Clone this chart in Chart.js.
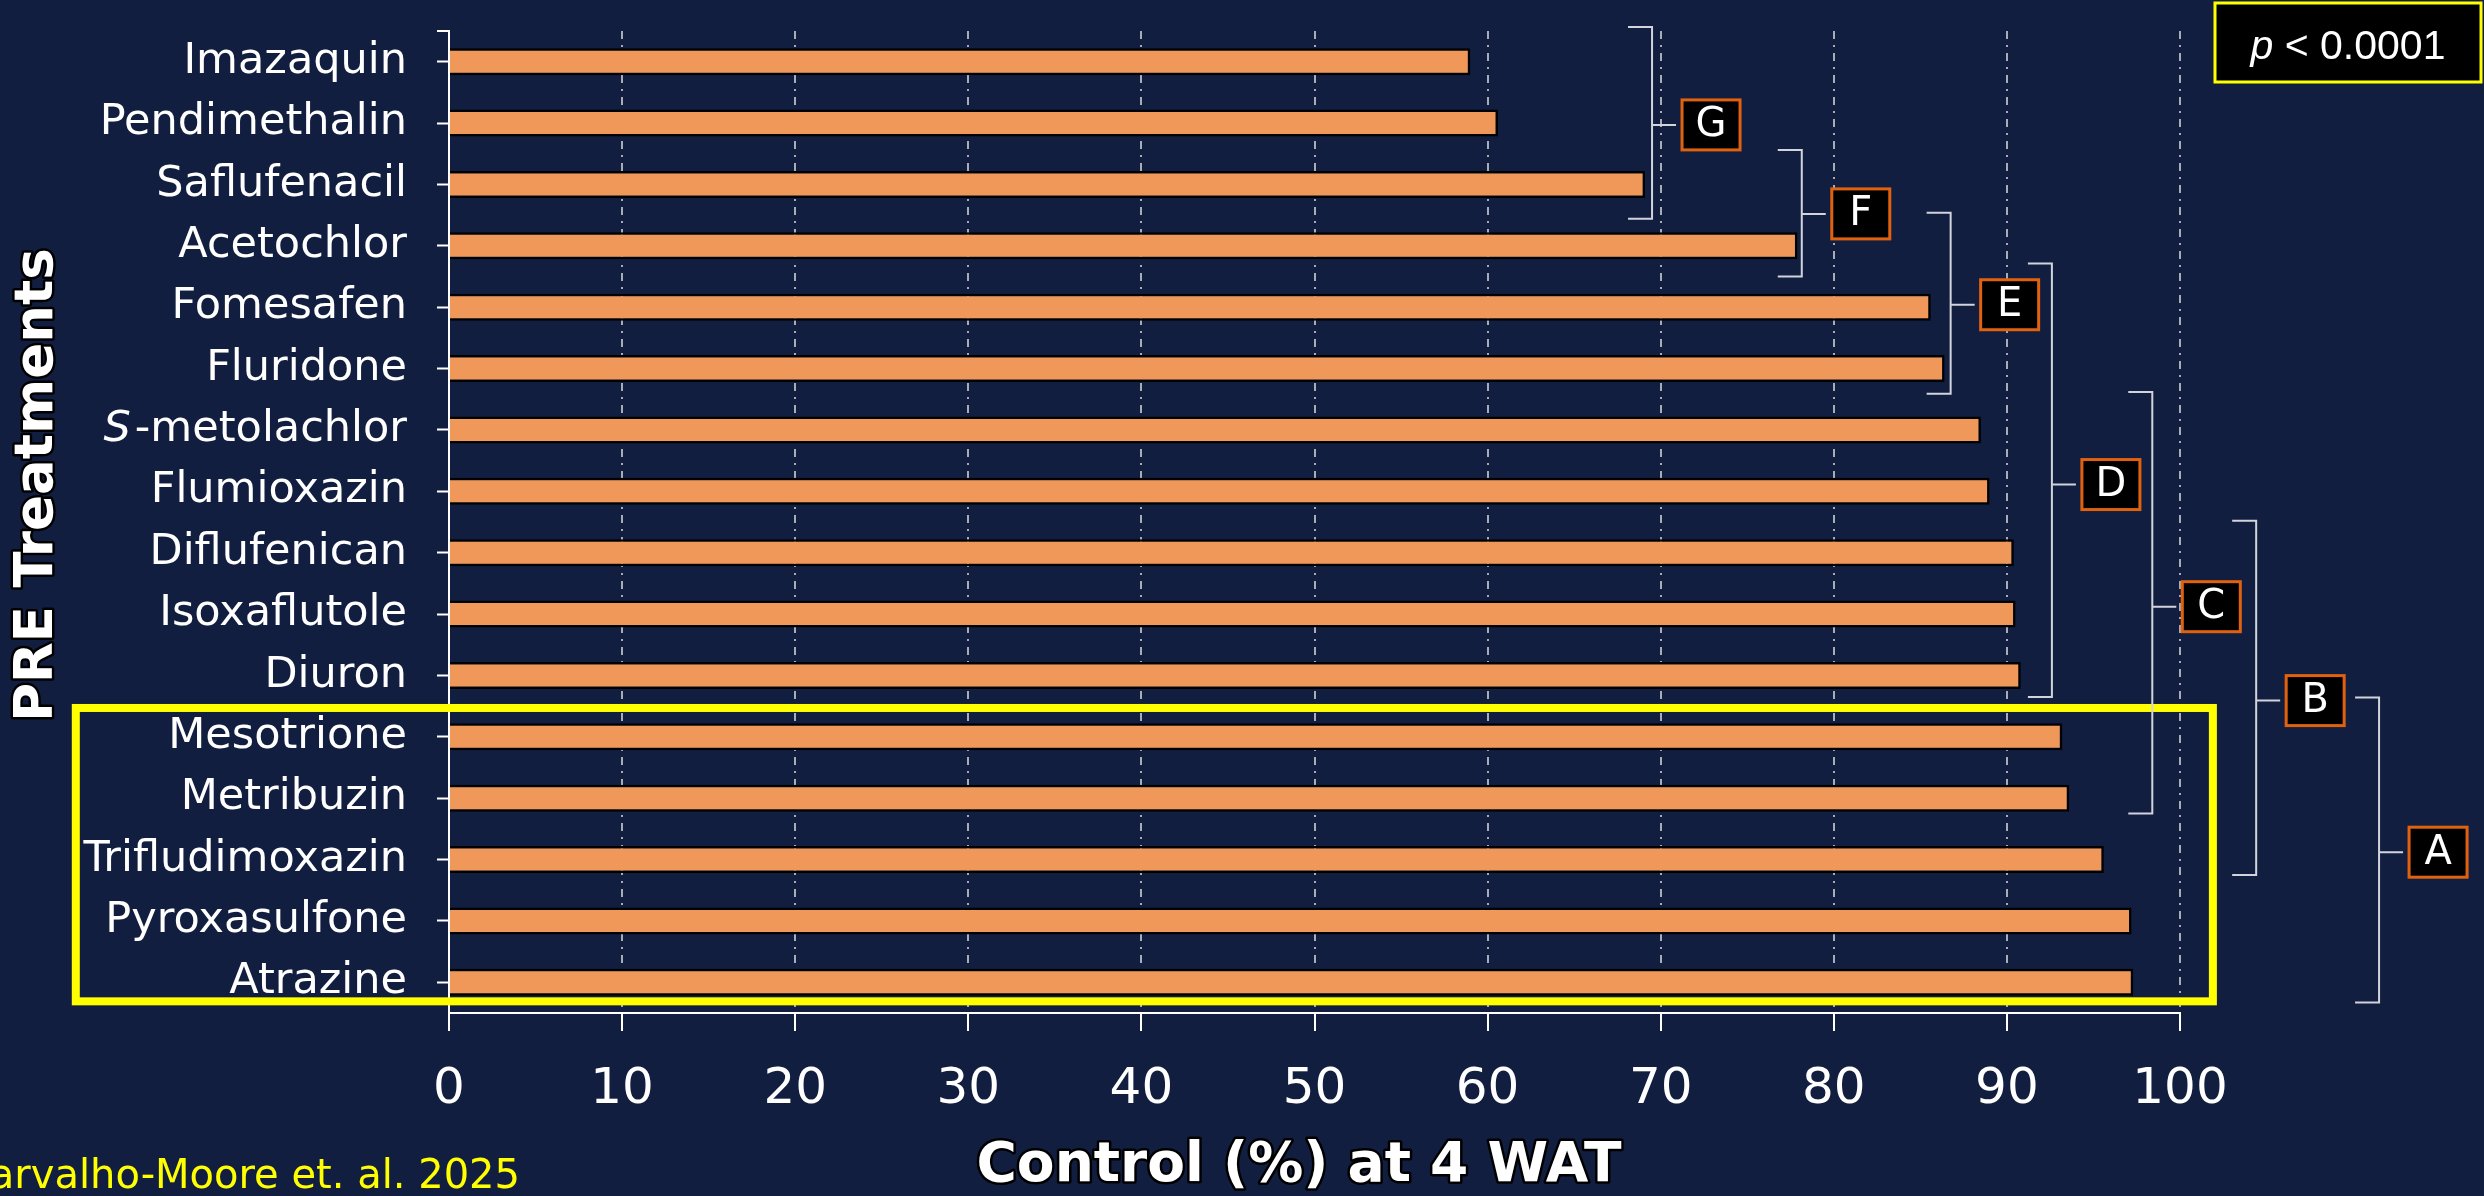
<!DOCTYPE html>
<html>
<head>
<meta charset="utf-8">
<script src="https://cdn.jsdelivr.net/npm/chart.js@4.4.1/dist/chart.umd.min.js"></script>
<style>
  html, body { margin: 0; padding: 0; background: #121e40; }
  #wrap { width: 2484px; height: 1196px; position: relative; }
</style>
</head>
<body>
<div id="wrap"><canvas id="chart" width="2484" height="1196"></canvas></div>
<script>
// PRE treatments, top to bottom
const treatments = ['Imazaquin', 'Pendimethalin', 'Saflufenacil', 'Acetochlor', 'Fomesafen', 'Fluridone',
  'S-metolachlor', 'Flumioxazin', 'Diflufenican', 'Isoxaflutole', 'Diuron', 'Mesotrione', 'Metribuzin',
  'Trifludimoxazin', 'Pyroxasulfone', 'Atrazine'];
// control (%) at 4 WAT
const control = [59.0, 60.6, 69.1, 77.9, 85.6, 86.4, 88.5, 89.0, 90.4, 90.5, 90.8, 93.2, 93.6, 95.6, 97.2, 97.3];
const xTickStep = 10;

// letter groups (brackets on the right)
const letters = ['G', 'F', 'E', 'D', 'C', 'B', 'A'];
// bracket layout: x in % units, y in category index units
const bracketX = [69.5, 78.15, 86.75, 92.6, 98.4, 104.4, 111.5];
const bracketTop = [-0.565, 1.44, 2.46, 3.29, 5.38, 7.48, 10.36];
const bracketBottom = [2.56, 3.5, 5.41, 10.35, 12.25, 13.25, 15.33];
const bracketMid = [1.03, 2.48, 3.96, 6.89, 8.88, 10.41, 12.88];

const barFill = '#f0985a';
const gridGray = '#a9acb4';
const bracketGray = '#d2d4dc';

function outlinedText(ctx, text, x, y, font) {
    ctx.font = font;
    ctx.lineJoin = 'round';
    ctx.strokeStyle = '#000';
    ctx.lineWidth = 5;
    ctx.strokeText(text, x, y);
    ctx.fillStyle = '#fff';
    ctx.fillText(text, x, y);
}

const overlay = {
    id: 'overlay',
    afterDraw(chart) {
        const { ctx, scales: { x, y }, chartArea } = chart;
        ctx.save();

        // small tick at the top end of the y axis
        ctx.strokeStyle = '#fff';
        ctx.lineWidth = 2;
        ctx.beginPath();
        ctx.moveTo(chartArea.left - 12, chartArea.top);
        ctx.lineTo(chartArea.left, chartArea.top);
        ctx.stroke();

        // S-metolachlor label with italic S
        const iS = treatments.indexOf('S-metolachlor');
        const ly = y.getPixelForValue(iS);
        const rx = chartArea.left - 42;
        ctx.fillStyle = '#fff';
        ctx.textBaseline = 'middle';
        ctx.textAlign = 'right';
        ctx.font = '43px "DejaVu Sans"';
        const rest = treatments[iS].slice(1);
        ctx.fillText(rest, rx, ly);
        const w = ctx.measureText(rest).width;
        ctx.font = 'italic 43px "DejaVu Sans"';
        ctx.fillText('S', rx - w - 4, ly);

        // highlight box around group A
        ctx.strokeStyle = '#ffff00';
        ctx.lineWidth = 8;
        const hx1 = x.getPixelForValue(-21.56), hx2 = x.getPixelForValue(101.9);
        const hy1 = y.getPixelForValue(10.53), hy2 = y.getPixelForValue(15.31);
        ctx.strokeRect(hx1, hy1, hx2 - hx1, hy2 - hy1);

        // letter brackets
        letters.forEach((L, i) => {
            const bx = x.getPixelForValue(bracketX[i]);
            const top = y.getPixelForValue(bracketTop[i]);
            const bot = y.getPixelForValue(bracketBottom[i]);
            const mid = y.getPixelForValue(bracketMid[i]);
            ctx.strokeStyle = bracketGray;
            ctx.lineWidth = 2;
            ctx.beginPath();
            ctx.moveTo(bx - 24, top);
            ctx.lineTo(bx, top);
            ctx.lineTo(bx, bot);
            ctx.lineTo(bx - 24, bot);
            ctx.moveTo(bx, mid);
            ctx.lineTo(bx + 24, mid);
            ctx.stroke();

            const left = bx + 30;
            ctx.fillStyle = '#000';
            ctx.fillRect(left, mid - 25, 58, 50);
            ctx.strokeStyle = '#e0620f';
            ctx.lineWidth = 3;
            ctx.strokeRect(left, mid - 25, 58, 50);
            ctx.fillStyle = '#fff';
            ctx.font = '40px "DejaVu Sans"';
            ctx.textAlign = 'center';
            ctx.textBaseline = 'middle';
            ctx.fillText(L, left + 29, mid + 1);
        });

        // p-value box
        ctx.fillStyle = '#000';
        ctx.fillRect(2215, 3, 266, 79);
        ctx.strokeStyle = '#ffff00';
        ctx.lineWidth = 3;
        ctx.strokeRect(2215, 3, 266, 79);
        ctx.fillStyle = '#fff';
        ctx.textBaseline = 'alphabetic';
        ctx.textAlign = 'left';
        ctx.font = 'italic 41px "Liberation Sans"';
        const pw = ctx.measureText('p').width;
        ctx.font = '41px "Liberation Sans"';
        const tw = ctx.measureText(' < 0.0001').width;
        const px0 = 2348 - (pw + tw) / 2;
        ctx.font = 'italic 41px "Liberation Sans"';
        ctx.fillText('p', px0, 59);
        ctx.font = '41px "Liberation Sans"';
        ctx.fillText(' < 0.0001', px0 + pw, 59);

        // axis titles
        ctx.textAlign = 'center';
        ctx.textBaseline = 'middle';
        outlinedText(ctx, 'Control (%) at 4 WAT', 1299, 1167, 'bold 55px "DejaVu Sans"');
        ctx.save();
        ctx.translate(38, 485);
        ctx.rotate(-Math.PI / 2);
        outlinedText(ctx, 'PRE Treatments', 0, 0, 'bold 53px "DejaVu Sans"');
        ctx.restore();

        // citation
        ctx.fillStyle = '#ffff00';
        ctx.font = '40px "DejaVu Sans"';
        ctx.textAlign = 'right';
        ctx.textBaseline = 'alphabetic';
        ctx.fillText('Carvalho-Moore et. al. 2025', 520, 1188);

        ctx.restore();
    }
};

const chart = new Chart(document.getElementById('chart').getContext('2d'), {
    type: 'bar',
    data: {
        labels: treatments,
        datasets: [{
            data: control,
            backgroundColor: barFill,
            borderColor: '#000',
            borderWidth: 2.5,
            categoryPercentage: 1,
            barPercentage: 0.44
        }]
    },
    options: {
        indexAxis: 'y',
        responsive: false,
        animation: false,
        layout: { padding: { top: 31, right: 304, left: 0, bottom: 0 } },
        plugins: { legend: { display: false }, tooltip: { enabled: false } },
        scales: {
            x: {
                min: 0,
                max: 100,
                afterFit: (s) => { s.height = 183; s.paddingLeft = 0; s.paddingRight = 0; },
                ticks: {
                    stepSize: xTickStep,
                    color: '#fff',
                    font: { family: 'DejaVu Sans', size: 50 },
                    padding: 29,
                    maxRotation: 0
                },
                grid: {
                    color: (c) => (c.tick && c.tick.value === 0 ? 'rgba(0,0,0,0)' : gridGray),
                    lineWidth: 2,
                    tickLength: 18,
                    tickColor: '#fff',
                    tickWidth: 2
                },
                border: { color: '#fff', width: 2, dash: [8, 6, 2, 6] }
            },
            y: {
                afterFit: (s) => { s.width = 449; s.paddingTop = 0; s.paddingBottom = 0; },
                ticks: {
                    autoSkip: false,
                    color: (c) => (c.index === treatments.indexOf('S-metolachlor') ? 'rgba(0,0,0,0)' : '#fff'),
                    font: { family: 'DejaVu Sans', size: 43 },
                    padding: 30
                },
                grid: {
                    drawOnChartArea: false,
                    offset: false,
                    tickLength: 12,
                    tickColor: '#fff',
                    tickWidth: 2,
                    color: '#fff'
                },
                border: { color: '#fff', width: 2 }
            }
        }
    },
    plugins: [overlay]
});
</script>
</body>
</html>
